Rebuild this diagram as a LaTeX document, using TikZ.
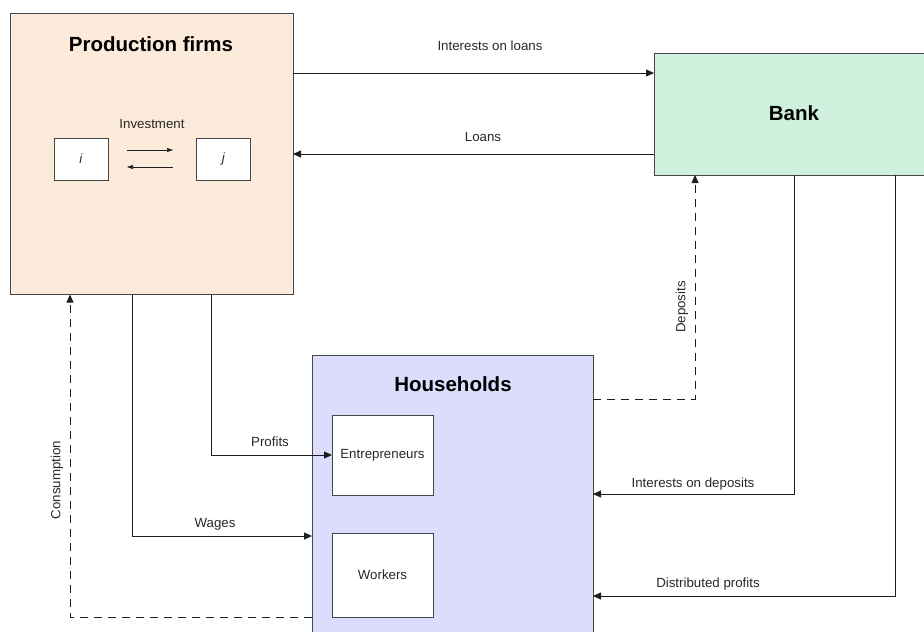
\documentclass[tikz,border=0pt]{standalone}
\usepackage{fontspec}
\setmainfont{Liberation Sans}
\usetikzlibrary{arrows.meta,calc}
\definecolor{prodfill}{RGB}{252,234,218}
\definecolor{bankfill}{RGB}{207,240,220}
\definecolor{hhfill}{RGB}{220,220,252}
\definecolor{boxline}{RGB}{70,70,70}
\definecolor{lin}{RGB}{30,30,30}
\definecolor{txt}{RGB}{40,40,40}
\begin{document}
\begin{tikzpicture}[x=1pt,y=-1pt,
  box/.style={draw=boxline, line width=0.9pt, inner sep=0pt, outer sep=0pt},
  lbl/.style={font=\fontsize{13.3}{15}\selectfont, text=txt, inner sep=1pt},
  ttl/.style={font=\bfseries\fontsize{20.5}{24}\selectfont, text=black, inner sep=1pt},
  arr/.style={draw=lin, line width=0.8pt, -{Triangle[length=8pt,width=7pt]}},
  darr/.style={arr, dash pattern=on 8pt off 6pt},
  sarr/.style={draw=lin, line width=0.6pt, -{Triangle[length=6pt,width=4pt]}}]
\useasboundingbox (0,0) rectangle (924,632);
\clip (0,0) rectangle (924,632);
% boxes
\node[box, fill=prodfill, minimum width=283pt, minimum height=281pt] (prod) at (151.5,154) {};
\node[ttl] (prodt) at (151,44) {Production firms};
\node[box, fill=white, minimum width=54pt, minimum height=42pt, lbl] (i) at (81,159) {\textit{i}};
\node[box, fill=white, minimum width=54pt, minimum height=42pt, lbl] (j) at (223.5,159) {\textit{j}};
\node[lbl] (inv) at (152,124) {Investment};
\coordinate (ia) at (127,150);
\coordinate (ib) at (173,150);
\coordinate (ic) at (173,167);
\coordinate (id) at (127,167);
\draw[sarr] (ia) -- (ib);
\draw[sarr] (ic) -- (id);

\node[box, fill=bankfill, minimum width=280pt, minimum height=122pt] (bank) at (794,114) {};
\node[ttl] (bankt) at (794,113) {Bank};

\node[box, fill=hhfill, minimum width=281pt, minimum height=290pt] (hh) at (452.5,500) {};
\node[ttl] (hht) at (453,384) {Households};
\node[box, fill=white, minimum width=101pt, minimum height=80pt, lbl] (entr) at (382.5,455) {Entrepreneurs};
\node[box, fill=white, minimum width=101pt, minimum height=84pt, lbl] (work) at (382.5,575) {Workers};

% connectors
\draw[arr] (prod.east |- 0,73) -- (bank.west |- 0,73);
\node[lbl] (l1) at (490,46) {Interests on loans};
\draw[arr] (bank.west |- 0,154) -- (prod.east |- 0,154);
\node[lbl] (l2) at (483,137) {Loans};

\draw[darr] (hh.east |- 0,399) -| (bank.south -| 695,0);
\node[lbl, rotate=90] (l3) at (682,307) {Deposits};

\draw[arr] (bank.south -| 794,0) |- (hh.east |- 0,494);
\node[lbl] (l4) at (693,484) {Interests on deposits};
\draw[arr] (bank.south -| 895,0) |- (hh.east |- 0,596);
\node[lbl] (l5) at (708,584) {Distributed profits};

\draw[arr] (prod.south -| 211,0) |- (entr.west);
\node[lbl] (l6) at (270,442) {Profits};
\draw[arr] (prod.south -| 132,0) |- (hh.west |- 0,536);
\node[lbl] (l7) at (215,524) {Wages};
\draw[darr] (hh.west |- 0,617) -| (prod.south -| 70,0);
\node[lbl, rotate=90] (l8) at (57,480) {Consumption};
\end{tikzpicture}
\end{document}
